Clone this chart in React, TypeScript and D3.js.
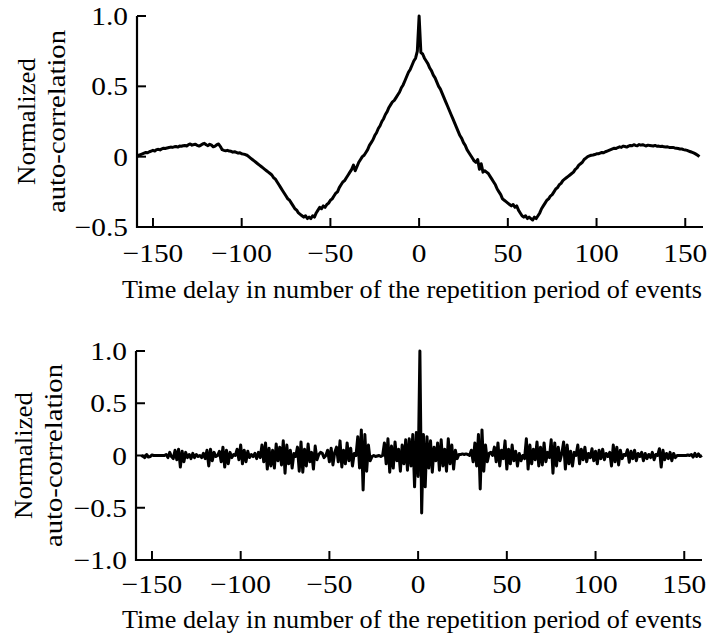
import React from "react";
import * as d3 from "d3";

// ---- Data ----
const xTickValues = [-150, -100, -50, 0, 50, 100, 150];
const xTickLabels = ["\u2212150", "\u2212100", "\u221250", "0", "50", "100", "150"];

const topYTicks = [1.0, 0.5, 0, -0.5];
const topYTickLabels = ["1.0", "0.5", "0", "\u22120.5"];
const bottomYTicks = [1.0, 0.5, 0, -0.5, -1.0];
const bottomYTickLabels = ["1.0", "0.5", "0", "\u22120.5", "\u22121.0"];

const xTitle = "Time delay in number of the repetition period of events";
const yTitleLines = ["Normalized", "auto-correlation"];

// top panel: lags -159 .. 158
const topLagStart = -159;
const topValues = [
  0.0, 0.01, 0.015, 0.02, 0.025, 0.03, 0.028, 0.035, 0.04, 0.045,
  0.04, 0.05, 0.052, 0.048, 0.055, 0.06, 0.058, 0.062, 0.065, 0.068,
  0.066, 0.07, 0.072, 0.068, 0.075, 0.074, 0.078, 0.08, 0.076, 0.085,
  0.09, 0.082, 0.086, 0.088, 0.08, 0.075, 0.082, 0.09, 0.095, 0.085,
  0.078, 0.088, 0.082, 0.07, 0.075, 0.085, 0.09, 0.072, 0.05, 0.045,
  0.042, 0.045, 0.04, 0.038, 0.032, 0.035, 0.03, 0.025, 0.028, 0.02,
  0.018, 0.015, 0.01, 0.0, -0.01, -0.02, -0.03, -0.04, -0.05, -0.06,
  -0.07, -0.08, -0.09, -0.1, -0.11, -0.12, -0.13, -0.15, -0.16, -0.18,
  -0.2, -0.22, -0.24, -0.26, -0.28, -0.3, -0.31, -0.33, -0.35, -0.37,
  -0.38, -0.4, -0.41, -0.42, -0.43, -0.42, -0.44, -0.43, -0.44, -0.42,
  -0.43, -0.4, -0.38, -0.36, -0.37, -0.35, -0.36, -0.34, -0.33, -0.31,
  -0.3, -0.28, -0.26, -0.25, -0.22, -0.2, -0.18, -0.17, -0.15, -0.13,
  -0.11, -0.09, -0.06, -0.1, -0.07, -0.04, -0.02, 0.0, 0.01, 0.03,
  0.05, 0.08, 0.1, 0.12, 0.15, 0.17, 0.2, 0.22, 0.25, 0.27,
  0.3, 0.32, 0.35, 0.37, 0.39, 0.4, 0.42, 0.44, 0.46, 0.49,
  0.51, 0.54, 0.57, 0.6, 0.62, 0.65, 0.68, 0.7, 0.75, 1.0,
  0.74, 0.73, 0.7, 0.68, 0.66, 0.63, 0.61, 0.58, 0.56, 0.53,
  0.5, 0.48, 0.45, 0.42, 0.39, 0.36, 0.33, 0.3, 0.27, 0.24,
  0.21, 0.18, 0.15, 0.13, 0.1, 0.08, 0.05, 0.03, 0.01, -0.01,
  -0.03, -0.04, -0.02, -0.09, -0.05, -0.11, -0.1, -0.11, -0.12, -0.14,
  -0.16, -0.18, -0.2, -0.23, -0.25, -0.27, -0.3, -0.31, -0.32, -0.33,
  -0.34, -0.35, -0.34, -0.36, -0.35, -0.38, -0.4, -0.42, -0.43, -0.42,
  -0.44, -0.43, -0.44, -0.45, -0.43, -0.44, -0.42, -0.4, -0.37, -0.35,
  -0.33, -0.31, -0.3, -0.28, -0.27, -0.25, -0.23, -0.22, -0.2, -0.19,
  -0.17, -0.16, -0.15, -0.14, -0.13, -0.12, -0.11, -0.09, -0.08, -0.06,
  -0.05, -0.04, -0.02, -0.01, 0.0, 0.005, 0.01, 0.012, 0.015, 0.02,
  0.02, 0.025, 0.03, 0.028, 0.035, 0.04, 0.045, 0.05, 0.055, 0.06,
  0.058, 0.065, 0.07, 0.066, 0.075, 0.072, 0.068, 0.075, 0.08, 0.078,
  0.085, 0.08, 0.078, 0.086, 0.082, 0.085, 0.08, 0.076, 0.082, 0.08,
  0.078, 0.076, 0.08, 0.074, 0.075, 0.072, 0.074, 0.07, 0.068, 0.07,
  0.066, 0.065, 0.066, 0.062, 0.06, 0.058, 0.055, 0.055, 0.05, 0.048,
  0.045, 0.04, 0.035, 0.03, 0.025, 0.018, 0.01, 0.0,
];

// bottom panel: lags -156 .. 160
const bottomLagStart = -156;
const bottomValues = [
  0.0, -0.01, -0.02, 0.01, -0.015, -0.01, 0.005, 0.0, 0.0, 0.0,
  0.0, 0.0, 0.0, 0.0, 0.01, -0.02, 0.03, -0.01, -0.03, 0.05,
  -0.04, 0.06, -0.11, 0.04, -0.06, 0.03, -0.02, 0.01, -0.03, 0.02,
  -0.02, 0.01, -0.01, 0.0, -0.02, 0.02, -0.03, 0.05, -0.1, 0.06,
  -0.05, 0.03, -0.01, 0.0, 0.04, -0.06, 0.08, -0.11, 0.05, -0.08,
  0.03, -0.02, 0.01, 0.0, 0.06, -0.04, 0.1, -0.08, 0.05, -0.06,
  0.04, -0.02, 0.01, -0.01, 0.02, -0.03, 0.03, -0.02, 0.1, -0.06,
  0.12, -0.13, 0.07, -0.1, 0.05, -0.12, 0.11, -0.05, 0.08, -0.09,
  0.14, -0.17, 0.1, -0.08, 0.05, -0.12, 0.02, -0.01, 0.08, -0.15,
  0.13, -0.16, 0.06, -0.1, 0.11, -0.06, 0.03, -0.13, 0.09, -0.04,
  0.01, 0.03, 0.02, -0.02, 0.0, 0.05, -0.06, 0.07, -0.09, 0.03,
  0.08, -0.06, 0.14, -0.11, 0.05, -0.08, 0.12, -0.05, 0.07, -0.1,
  0.02, 0.0, 0.18, -0.12, 0.245, -0.33, 0.2, -0.15, 0.1, -0.05,
  -0.01, 0.0, -0.01, -0.005, 0.0, -0.01, 0.0, 0.12, -0.08, 0.16,
  -0.16, 0.09, -0.12, 0.13, -0.05, 0.06, -0.15, 0.1, -0.08, 0.15,
  -0.14, 0.16, -0.1, 0.2, -0.3, 0.22, -0.2, 1.0, -0.55, 0.2,
  -0.3, 0.18, -0.12, 0.14, -0.16, 0.08, -0.05, 0.12, -0.14, 0.15,
  -0.1, 0.06, -0.15, 0.16, -0.08, 0.1, -0.13, 0.05, -0.03, 0.01,
  0.01, 0.015, 0.01, 0.015, 0.01, 0.0, 0.05, -0.06, 0.12, -0.1,
  0.2, -0.32, 0.245, -0.15, 0.1, -0.06, 0.02, 0.03, 0.0, 0.08,
  -0.06, 0.12, -0.1, 0.05, -0.03, 0.14, -0.13, 0.06, -0.08, 0.1,
  -0.05, 0.04, -0.1, 0.02, -0.05, 0.0, -0.03, 0.16, -0.13, 0.1,
  -0.08, 0.06, -0.04, 0.13, -0.1, 0.08, -0.09, 0.12, -0.06, 0.03,
  -0.02, 0.15, -0.17, 0.12, -0.1, 0.08, -0.05, 0.02, 0.13, -0.13,
  0.1, -0.08, 0.04, -0.1, 0.03, 0.0, 0.1, -0.08, 0.06, -0.04,
  0.08, -0.06, 0.02, -0.02, 0.065, -0.05, 0.04, -0.08, 0.05, -0.03,
  0.06, -0.04, 0.02, -0.01, 0.03, -0.1, 0.1, -0.06, 0.08, -0.09,
  0.05, -0.03, 0.01, 0.0, 0.055, -0.065, 0.04, -0.03, 0.05, -0.05,
  0.02, -0.01, 0.03, -0.05, 0.02, -0.03, 0.01, -0.02, 0.03, -0.04,
  0.01, 0.0, 0.065, -0.11, 0.05, -0.04, 0.02, -0.03, 0.03, -0.05,
  0.02, -0.02, 0.0, 0.0, 0.0, 0.0, 0.0, 0.0, 0.005, 0.0,
  0.01, -0.015, 0.02, -0.01, 0.015, -0.01, 0.0,
];

const FONT = "'Liberation Serif', 'Times New Roman', serif";
const FS = 26;
const STRETCH = 1.13;
const yTitleLengths = [127, 183];

type PanelProps = {
  lagStart: number;
  values: number[];
  yTicks: number[];
  yTickLabels: string[];
  yDomain: [number, number];
  top: number;
  bottom: number;
  left: number;
  right: number;
  xLabelBaseline: number;
  titleBaseline: number;
  yTitleX: [number, number];
};

function Panel(p: PanelProps) {
  const x = d3.scaleLinear().domain([-159, 160]).range([p.left, p.right]);
  const y = d3.scaleLinear().domain(p.yDomain).range([p.bottom, p.top]);
  const data = p.values.map((v, i) => ({ t: p.lagStart + i, v }));
  const line = d3
    .line<{ t: number; v: number }>()
    .x((d) => x(d.t))
    .y((d) => y(d.v));
  const tick = 9;
  const midY = (p.top + p.bottom) / 2;
  return (
    <g>
      <path d={line(data) || ""} fill="none" stroke="#000" strokeWidth={3} strokeLinejoin="round" />
      <line x1={p.left} x2={p.left} y1={p.top} y2={p.bottom + 1} stroke="#000" strokeWidth={2.2} />
      <line x1={p.left - 1} x2={p.right} y1={p.bottom} y2={p.bottom} stroke="#000" strokeWidth={2.2} />
      {xTickValues.map((t, i) => (
        <g key={"x" + t}>
          <line x1={x(t)} x2={x(t)} y1={p.bottom} y2={p.bottom - tick} stroke="#000" strokeWidth={2} />
          <text
            transform={`translate(${x(t)},${p.xLabelBaseline}) scale(${STRETCH},1)`}
            textAnchor="middle"
            fontFamily={FONT}
            fontSize={FS}
          >
            {xTickLabels[i]}
          </text>
        </g>
      ))}
      {p.yTicks.map((v, i) => (
        <g key={"y" + v}>
          <line x1={p.left} x2={p.left + tick} y1={y(v)} y2={y(v)} stroke="#000" strokeWidth={2} />
          <text
            transform={`translate(${p.left - 9},${y(v) + 9}) scale(${STRETCH},1)`}
            textAnchor="end"
            fontFamily={FONT}
            fontSize={FS}
          >
            {p.yTickLabels[i]}
          </text>
        </g>
      ))}
      <text x={122} y={p.titleBaseline} fontFamily={FONT} fontSize={FS} textLength={580} lengthAdjust="spacingAndGlyphs">
        {xTitle}
      </text>
      {yTitleLines.map((s, i) => (
        <text
          key={s}
          transform={`translate(${p.yTitleX[i]},${midY}) rotate(-90)`}
          x={-yTitleLengths[i] / 2}
          fontFamily={FONT}
          fontSize={FS}
          textLength={yTitleLengths[i]}
          lengthAdjust="spacingAndGlyphs"
        >
          {s}
        </text>
      ))}
    </g>
  );
}

export default function App() {
  return (
    <svg width={724} height={637} style={{ position: "absolute", left: 0, top: 0, background: "#fff" }}>
      <rect width={724} height={637} fill="#fff" />
      <Panel
        lagStart={topLagStart}
        values={topValues}
        yTicks={topYTicks}
        yTickLabels={topYTickLabels}
        yDomain={[-0.5, 1.0]}
        top={16}
        bottom={227}
        left={137}
        right={703}
        xLabelBaseline={262}
        titleBaseline={298}
        yTitleX={[35, 65]}
      />
      <Panel
        lagStart={bottomLagStart}
        values={bottomValues}
        yTicks={bottomYTicks}
        yTickLabels={bottomYTickLabels}
        yDomain={[-1.0, 1.0]}
        top={351}
        bottom={560}
        left={136}
        right={702}
        xLabelBaseline={593}
        titleBaseline={628}
        yTitleX={[32, 62]}
      />
    </svg>
  );
}
